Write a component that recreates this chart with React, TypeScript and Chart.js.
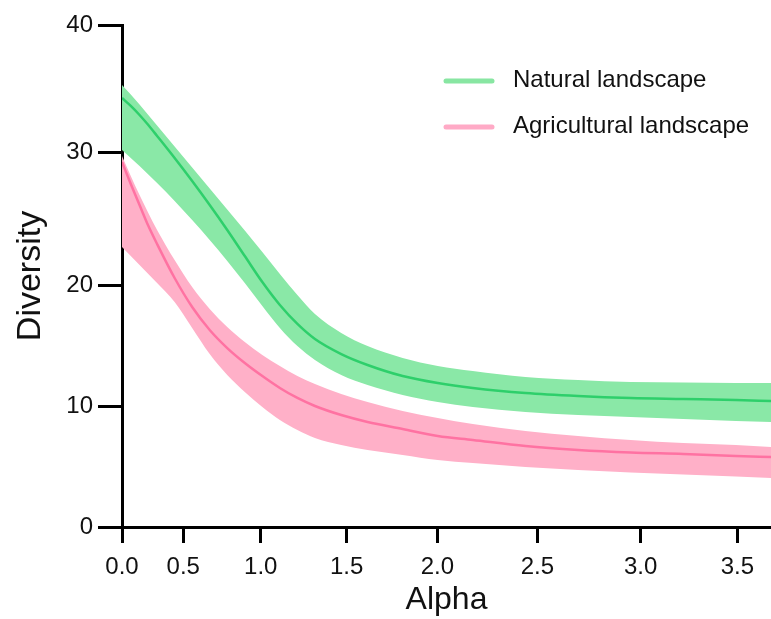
import React, { useEffect, useRef } from 'react';
import { Chart, registerables } from 'chart.js';

Chart.register(...registerables);

// Axis positions (x in axis units; tick labels sit at uneven positions as in the reference)
const X_POS = [0, 0.05, 0.1, 0.15, 0.2, 0.3, 0.4, 0.5, 0.6, 0.7, 0.8, 0.9, 1.0, 1.1, 1.25, 1.4, 1.6, 1.8, 2.0, 2.3, 2.6, 2.9, 3.2, 3.5, 3.7];

const NATURAL_MEAN = [34.18, 33.55, 32.83, 32.03, 31.16, 29.4, 27.57, 25.66, 23.67, 21.59, 19.52, 17.69, 16.18, 14.98, 13.78, 12.91, 12.03, 11.47, 11.08, 10.68, 10.44, 10.28, 10.2, 10.12, 10.04];
const NATURAL_UPPER = [35.22, 34.46, 33.67, 32.83, 31.99, 30.32, 28.65, 26.97, 25.3, 23.63, 21.91, 20.16, 18.49, 16.97, 15.46, 14.42, 13.47, 12.83, 12.43, 11.95, 11.71, 11.55, 11.51, 11.47, 11.47];
const NATURAL_LOWER = [30.04, 29.4, 28.76, 28.09, 27.41, 25.98, 24.46, 22.87, 21.2, 19.44, 17.61, 15.86, 14.42, 13.31, 12.11, 11.31, 10.52, 9.96, 9.56, 9.16, 8.92, 8.76, 8.61, 8.45, 8.37];

const AGRI_MEAN = [29.08, 27.33, 25.66, 24.0, 22.55, 19.84, 17.53, 15.7, 14.26, 13.07, 12.03, 11.08, 10.28, 9.64, 8.92, 8.37, 7.81, 7.25, 6.93, 6.45, 6.14, 5.94, 5.82, 5.66, 5.58];
const AGRI_UPPER = [29.56, 27.97, 26.45, 25.02, 23.67, 21.27, 19.12, 17.37, 15.94, 14.74, 13.71, 12.83, 12.03, 11.39, 10.6, 9.96, 9.24, 8.69, 8.21, 7.65, 7.25, 6.93, 6.69, 6.53, 6.37];
const AGRI_LOWER = [22.31, 21.59, 20.88, 20.16, 19.44, 17.93, 15.86, 13.78, 12.11, 10.76, 9.56, 8.53, 7.73, 7.09, 6.53, 6.14, 5.74, 5.34, 5.1, 4.78, 4.54, 4.34, 4.18, 4.02, 3.9];

const X_TICK_POS = [0, 0.349, 0.791, 1.281, 1.798, 2.368, 2.957, 3.508];
const X_TICK_LABELS = ['0.0', '0.5', '1.0', '1.5', '2.0', '2.5', '3.0', '3.5'];
const Y_TICK_POS = [0, 9.64, 19.28, 29.88, 40];
const Y_TICK_LABELS = ['0', '10', '20', '30', '40'];

const SERIES_LABELS = ['Natural landscape', 'Agricultural landscape'];

const FONT = "'Liberation Sans', Arial, Helvetica, sans-serif";
const GREEN_BAND = '#8ae8a7';
const GREEN_LINE = '#2ecf6b';
const GREEN_LEGEND = '#88e6a2';
const PINK_BAND = '#ffb0c8';
const PINK_LINE = '#ff72a2';
const PINK_LEGEND = '#ffaac6';

const pts = (ys: number[]) => X_POS.map((x, i) => ({ x, y: ys[i] }));

const legendPlugin = {
  id: 'insideLegend',
  afterDraw(chart: any) {
    const ctx = chart.ctx;
    const items = chart.data.datasets.filter((d: any) => d.legendColor);
    ctx.save();
    items.forEach((d: any, i: number) => {
      const baseY = 87 + i * 46;
      const lineY = baseY - 6;
      ctx.strokeStyle = d.legendColor;
      ctx.lineWidth = 5;
      ctx.lineCap = 'round';
      ctx.beginPath();
      ctx.moveTo(446, lineY);
      ctx.lineTo(492, lineY);
      ctx.stroke();
      ctx.fillStyle = '#111';
      ctx.font = `24px ${FONT}`;
      ctx.textBaseline = 'alphabetic';
      ctx.textAlign = 'left';
      ctx.fillText(d.label, 513, baseY);
    });
    ctx.restore();
  },
};

export default function App() {
  const ref = useRef<HTMLCanvasElement>(null);

  useEffect(() => {
    const band = (data: number[], color: string) => ({
      data: pts(data),
      backgroundColor: color,
      borderWidth: 0,
      pointRadius: 0,
      tension: 0.4,
      cubicInterpolationMode: 'monotone',
      order: 2,
    });
    const line = (label: string, data: number[], color: string, legendColor: string) =>
      ({
        label,
        data: pts(data),
        borderColor: color,
        borderWidth: 2.5,
        pointRadius: 0,
        fill: false,
        tension: 0.4,
        cubicInterpolationMode: 'monotone',
        order: 0,
        legendColor,
      } as any);
    const chart = new Chart(ref.current!, {
      type: 'line',
      data: {
        datasets: [
          { ...band(NATURAL_UPPER, GREEN_BAND), label: 'nu', fill: '+1' },
          { ...band(NATURAL_LOWER, GREEN_BAND), label: 'nl', fill: false },
          { ...band(AGRI_UPPER, PINK_BAND), label: 'au', fill: '+1' },
          { ...band(AGRI_LOWER, PINK_BAND), label: 'al', fill: false },
          line(SERIES_LABELS[0], NATURAL_MEAN, GREEN_LINE, GREEN_LEGEND),
          line(SERIES_LABELS[1], AGRI_MEAN, PINK_LINE, PINK_LEGEND),
        ] as any,
      },
      options: {
        animation: false,
        responsive: false,
        layout: { padding: { top: 25, right: 0, left: 0, bottom: 0 } },
        plugins: {
          legend: { display: false },
          tooltip: { enabled: false },
        },
        scales: {
          x: {
            type: 'linear',
            min: 0,
            max: 3.7,
            afterBuildTicks: (s: any) => {
              s.ticks = X_TICK_POS.map((v) => ({ value: v }));
            },
            afterFit: (s: any) => {
              s.height = 92;
            },
            ticks: {
              autoSkip: false,
              maxRotation: 0,
              padding: 10,
              color: '#111',
              font: { family: FONT, size: 24 },
              callback: (_v: any, i: number) => X_TICK_LABELS[i] ?? '',
            },
            grid: {
              display: true,
              drawOnChartArea: false,
              drawTicks: true,
              tickLength: 16,
              tickWidth: 3,
              tickColor: '#000',
            },
            border: { display: true, color: '#000', width: 3 },
            title: {
              display: true,
              text: 'Alpha',
              color: '#111',
              font: { family: FONT, size: 32 },
              padding: { top: 0, bottom: 0 },
            },
          },
          y: {
            type: 'linear',
            min: 0,
            max: 40,
            afterBuildTicks: (s: any) => {
              s.ticks = Y_TICK_POS.map((v) => ({ value: v }));
            },
            afterFit: (s: any) => {
              s.width = 122;
            },
            ticks: {
              autoSkip: false,
              padding: 5,
              color: '#111',
              font: { family: FONT, size: 24 },
              callback: (_v: any, i: number) => Y_TICK_LABELS[i] ?? '',
            },
            grid: {
              display: true,
              drawOnChartArea: false,
              drawTicks: true,
              tickLength: 24,
              tickWidth: 3,
              tickColor: '#000',
            },
            border: { display: true, color: '#000', width: 3 },
            title: {
              display: true,
              text: 'Diversity',
              color: '#111',
              font: { family: FONT, size: 34 },
              padding: { top: 10, bottom: 0 },
            },
          },
        },
      } as any,
      plugins: [legendPlugin],
    });
    return () => chart.destroy();
  }, []);

  return (
    <div style={{ position: 'absolute', left: 0, top: 0, width: 771, height: 619, background: '#fff' }}>
      <canvas ref={ref} width={771} height={619} style={{ display: 'block' }} />
    </div>
  );
}
